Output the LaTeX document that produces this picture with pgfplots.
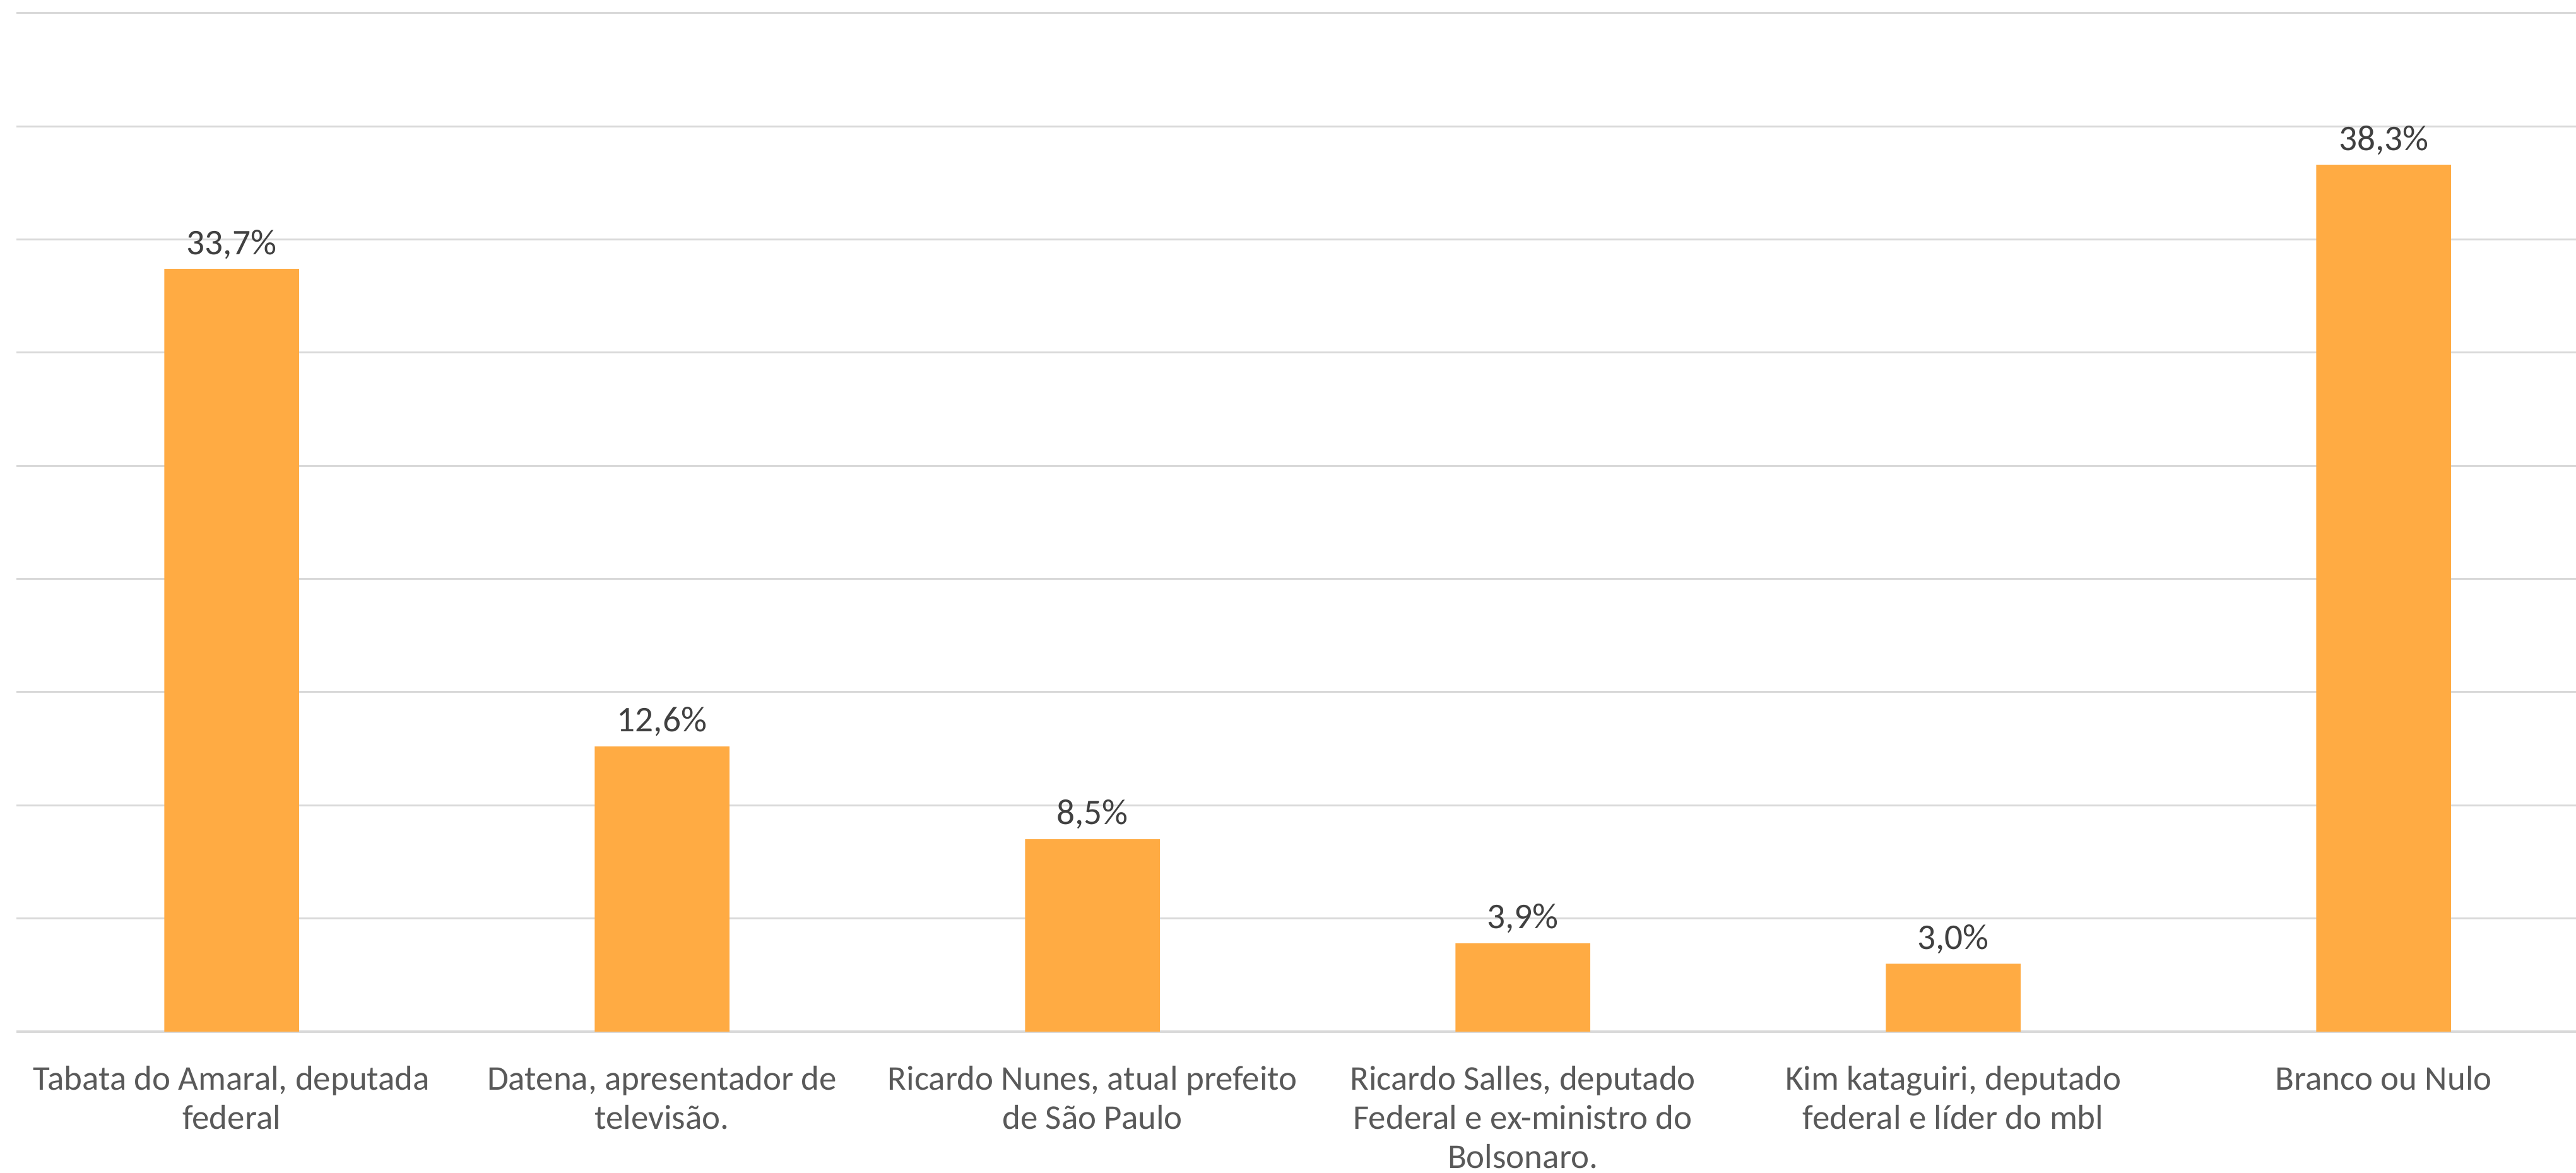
\documentclass[border=0pt]{standalone}
\usepackage{pgfplots}
\pgfplotsset{compat=1.18}
\usepackage{fontspec}
\setmainfont{Carlito}
\definecolor{barc}{RGB}{255,171,67}
\definecolor{gridc}{RGB}{217,217,217}
\definecolor{labc}{RGB}{89,89,89}
\definecolor{valc}{RGB}{64,64,64}
\begin{document}
\begin{tikzpicture}
\useasboundingbox (0,0) rectangle (784pt,357pt);
\begin{axis}[
  at={(5pt,43pt)}, anchor=south west,
  scale only axis, width=779pt, height=310pt,
  xmin=-0.5, xmax=5.447, ymin=0, ymax=45,
  ybar, bar width=0.313, bar shift=0pt,
  separate axis lines,
  axis x line*=bottom, axis y line*=left,
  x axis line style={gridc, line width=0.8pt, -},
  y axis line style={draw=none},
  ymajorgrids, ytick={0,5,...,45}, yticklabels={},
  grid style={gridc, line width=0.6pt},
  xtick={0,1,2,3,4,5}, major tick length=0pt,
  xticklabels={{Tabata do Amaral, deputada\\federal},
               {Datena, apresentador de\\televisão.},
               {Ricardo Nunes, atual prefeito\\de São Paulo},
               {Ricardo Salles, deputado\\Federal e ex-ministro do\\Bolsonaro.},
               {Kim kataguiri, deputado\\federal e líder do mbl},
               {Branco ou Nulo}},
  xticklabel style={align=center, font=\fontsize{10.55}{11.9}\selectfont, text=labc, anchor=north, yshift=-7pt},
  nodes near coords={\pgfmathprintnumber[fixed,fixed zerofill,precision=1,use comma,assume math mode=true]{\pgfplotspointmeta}\%},
  nodes near coords style={font=\fontsize{11}{13}\selectfont, text=valc, anchor=south, yshift=-0.5pt},
  clip=false,
]
\addplot[fill=barc, draw=none] coordinates {(0,33.7) (1,12.6) (2,8.5) (3,3.9) (4,3.0) (5,38.3)};
\end{axis}
\end{tikzpicture}
\end{document}
